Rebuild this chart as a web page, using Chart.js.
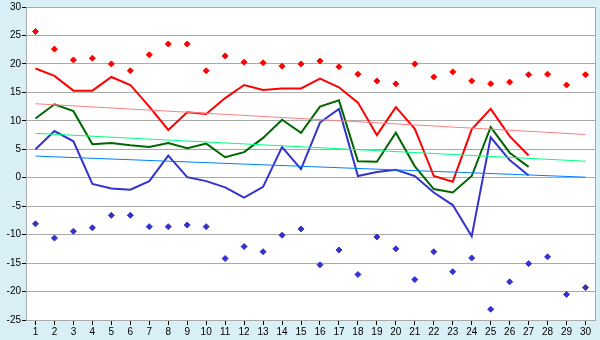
<!DOCTYPE html>
<html>
<head>
<meta charset="utf-8">
<script src="https://cdn.jsdelivr.net/npm/chart.js@4/dist/chart.umd.min.js"></script>
<style>
  html, body { margin: 0; padding: 0; background: #d8eff5; }
  #wrap { width: 600px; height: 340px; }
</style>
</head>
<body>
<div id="wrap"><canvas id="tempChart" width="600" height="340"></canvas></div>
<script>
const days = [];
for (let d = 1; d <= 30; d++) days.push(String(d));

// daily extremes (diamonds)
const highMarks = [25.7, 22.6, 20.7, 21.0, 20.0, 18.8, 21.6, 23.5, 23.5, 18.8,
  21.4, 20.3, 20.2, 19.6, 20.0, 20.5, 19.5, 18.2, 17.0, 16.5,
  20.0, 17.7, 18.6, 17.0, 16.5, 16.8, 18.1, 18.2, 16.3, 18.1];
const lowMarks = [-8.1, -10.6, -9.4, -8.8, -6.6, -6.6, -8.6, -8.6, -8.3, -8.6,
  -14.2, -12.1, -13.0, -10.1, -9.0, -15.3, -12.7, -17.0, -10.4, -12.5,
  -17.9, -13.0, -16.5, -14.1, -23.1, -18.3, -15.1, -13.9, -20.5, -19.3];

// max / mean / min lines (only 27 days recorded)
const maxLine = [19.2, 17.9, 15.3, 15.3, 17.7, 16.3, 12.5, 8.4, 11.5, 11.2,
  14.0, 16.3, 15.4, 15.7, 15.7, 17.4, 15.9, 13.2, 7.5, 12.4,
  8.6, 0.3, -0.7, 8.5, 12.1, 7.3, 3.9];
const meanLine = [10.4, 12.9, 11.7, 5.9, 6.1, 5.7, 5.4, 6.1, 5.2, 6.0,
  3.6, 4.5, 7.0, 10.2, 7.9, 12.5, 13.6, 2.9, 2.8, 7.9,
  2.0, -2.0, -2.6, 0.3, 8.9, 4.4, 1.9];
const minLine = [5.0, 8.2, 6.4, -1.1, -1.9, -2.1, -0.6, 3.9, 0.1, -0.6,
  -1.7, -3.5, -1.6, 5.4, 1.5, 9.7, 12.1, 0.3, 1.0, 1.4,
  0.3, -2.6, -4.8, -10.3, 7.1, 3.1, 0.4];

// trend lines: start (day 1) and end (day 30)
const maxTrend = [13.0, 7.6];
const meanTrend = [7.8, 2.9];
const minTrend = [3.8, 0.1];

function trendData(ends) {
  const arr = new Array(days.length).fill(null);
  arr[0] = ends[0];
  arr[days.length - 1] = ends[1];
  return arr;
}

const plotArea = {
  id: "plotArea",
  beforeDraw(chart) {
    const { ctx, chartArea: a } = chart;
    ctx.save();
    ctx.fillStyle = "#ffffff";
    ctx.fillRect(a.left, a.top, a.right - a.left, a.bottom - a.top);
    ctx.restore();
  },
  afterDraw(chart) {
    const { ctx, chartArea: a } = chart;
    ctx.save();
    ctx.strokeStyle = "#aaaaaa";
    ctx.lineWidth = 1;
    ctx.beginPath();
    ctx.moveTo(a.left, a.top + 0.5);
    ctx.lineTo(a.right + 0.5, a.top + 0.5);
    ctx.lineTo(a.right + 0.5, a.bottom);
    ctx.stroke();
    ctx.restore();
  },
};

Chart.defaults.font.family = "Liberation Sans";
Chart.defaults.font.size = 10;
Chart.defaults.color = "#000";

const lineSet = (data, color, width) => ({
  type: "line",
  data: data,
  borderColor: color,
  borderWidth: width,
  pointRadius: 0,
  fill: false,
  tension: 0,
  spanGaps: true,
});

const markSet = (data, color) => ({
  type: "line",
  data: data,
  showLine: false,
  pointStyle: "rectRot",
  pointRadius: 3,
  pointBackgroundColor: color,
  pointBorderColor: color,
  pointBorderWidth: 1,
});

new Chart(document.querySelector("#tempChart").getContext("2d"), {
  type: "line",
  data: {
    labels: days,
    datasets: [
      lineSet(trendData(maxTrend), "#ff8080", 1),
      lineSet(trendData(meanTrend), "#00ff80", 1),
      lineSet(trendData(minTrend), "#0080ff", 1),
      lineSet(maxLine, "#ff0000", 2),
      lineSet(meanLine, "#006600", 2),
      lineSet(minLine, "#3333cc", 2),
      markSet(highMarks, "#ff0000"),
      markSet(lowMarks, "#3333cc"),
    ],
  },
  options: {
    responsive: false,
    animation: false,
    events: [],
    layout: {
      padding: { top: 5, right: 4, bottom: 0, left: 0 },
    },
    plugins: {
      legend: { display: false },
      tooltip: { enabled: false },
    },
    scales: {
      x: {
        offset: true,
        afterFit(scale) { scale.height = 20; },
        grid: {
          drawOnChartArea: false,
          tickLength: 5,
          tickColor: "#000",
        },
        border: { color: "#aaaaaa" },
        ticks: { padding: 1, maxRotation: 0, autoSkip: false },
      },
      y: {
        min: -25,
        max: 30,
        afterFit(scale) { scale.width = 26; },
        ticks: { stepSize: 5, padding: 1 },
        grid: {
          color: "#aaaaaa",
          tickLength: 4,
          tickColor: "#000",
        },
        border: { color: "#aaaaaa" },
      },
    },
  },
  plugins: [plotArea],
});
</script>
</body>
</html>
